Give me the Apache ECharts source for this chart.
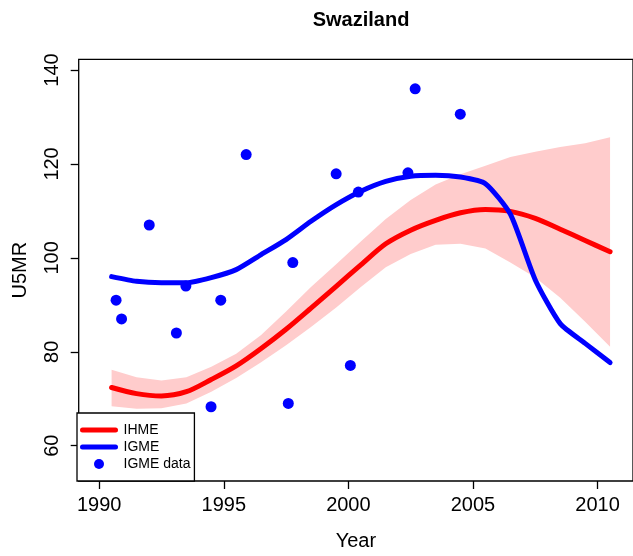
<!DOCTYPE html>
<html>
<head>
<meta charset="utf-8">
<script src="https://cdn.jsdelivr.net/npm/echarts@6/dist/echarts.min.js"></script>
<style>html,body{margin:0;padding:0;background:#fff;}#c{width:633px;height:556px;}</style>
</head>
<body>
<div id="c"></div>
<script>
// ---- data ----
const years = [1990.5,1991.5,1992.5,1993.5,1994.5,1995.5,1996.5,1997.5,1998.5,1999.5,2000.5,2001.5,2002.5,2003.5,2004.5,2005.5,2006.5,2007.5,2008.5,2009.5,2010.5];
const ihme = [72.4,71.1,70.6,71.5,74.1,77.0,80.7,84.8,89.3,93.9,98.5,103.0,105.9,108.0,109.6,110.3,109.9,108.4,106.1,103.7,101.3];
const ihmeLower = [68.4,67.9,68.0,69.0,71.5,74.4,77.8,81.4,85.3,89.4,93.8,98.0,100.8,102.8,103.0,102.0,99.0,95.8,91.5,86.4,81.1];
const ihmeUpper = [76.2,74.6,73.9,74.6,76.8,79.6,83.6,88.6,93.8,98.6,103.5,108.3,112.3,115.6,117.8,119.6,121.5,122.6,123.6,124.4,125.7];
const igme = [96.0,95.0,94.7,94.7,95.8,97.5,100.7,103.9,107.8,111.3,114.2,116.3,117.4,117.6,117.2,115.8,109.3,95.3,86.0,81.8,77.7];
const dataYears = [1990.68,1990.9,1992.01,1993.1,1993.48,1994.49,1994.88,1995.9,1997.59,1997.77,1999.51,2000.08,2000.4,2002.39,2002.68,2004.49];
const dataValues = [91.0,87.0,107.0,84.0,94.0,68.3,91.0,122.0,69.0,99.0,117.9,77.1,114.0,118.1,136.0,130.6];
const xTicks = [1990,1995,2000,2005,2010];
const yTicks = [60,80,100,120,140];

// ---- chart ----
const FONT = '"Liberation Sans", Arial, sans-serif';
const chart = echarts.init(document.getElementById('c'), null, {renderer:'canvas'});
const pair = (xs, ys) => xs.map((x,i)=>[x, ys[i]]);

chart.setOption({
  animation: false,
  backgroundColor: '#fff',
  title: {
    text: 'Swaziland', left: 356, top: 5, textAlign: 'center',
    textStyle: {fontFamily: FONT, fontWeight: 'bold', fontSize: 20, color: '#000'}
  },
  grid: {left: 78.7, right: -4, top: 59.3, bottom: 75, show: true, borderColor: '#000', borderWidth: 1.3, backgroundColor: 'transparent'},
  xAxis: {
    type: 'value', min: 1989.18, max: 2011.42,
    name: 'Year', nameLocation: 'middle', nameGap: 50,
    nameTextStyle: {fontFamily: FONT, fontSize: 20, color: '#000'},
    axisLine: {show: false},
    axisTick: {show: true, length: 8, lineStyle: {color: '#000', width: 1.3}, customValues: xTicks},
    axisLabel: {fontFamily: FONT, fontSize: 20, color: '#000', margin: 14, customValues: xTicks, formatter: v => String(v)},
    splitLine: {show: false}
  },
  yAxis: {
    type: 'value', min: 52.49, max: 142.28,
    name: 'U5MR', nameLocation: 'middle', nameGap: 48, nameRotate: 90,
    nameTextStyle: {fontFamily: FONT, fontSize: 20, color: '#000'},
    axisLine: {show: false},
    axisTick: {show: true, length: 8, lineStyle: {color: '#000', width: 1.3}, customValues: yTicks},
    axisLabel: {fontFamily: FONT, fontSize: 20, color: '#000', margin: 16, rotate: 90, customValues: yTicks, formatter: v => String(v)},
    splitLine: {show: false}
  },
  legend: {
    orient: 'vertical', left: 77, top: 413,
    data: [
      {name: 'IHME', itemStyle: {opacity: 0}, lineStyle: {width: 5, color: '#FF0000', cap: 'round'}},
      {name: 'IGME', itemStyle: {opacity: 0}, lineStyle: {width: 5, color: '#0000FF', cap: 'round'}},
      {name: 'IGME data'}
    ],
    backgroundColor: '#fff', borderColor: '#000', borderWidth: 1.3,
    padding: [10, 4, 10, 3],
    itemWidth: 33, itemHeight: 10, itemGap: 3,
    textStyle: {fontFamily: FONT, fontSize: 14, color: '#000', padding: [0,0,0,3]}
  },
  series: [
    {name: 'band', type: 'custom', data: [[years[0], ihmeUpper[0]]], silent: true, z: 1,
     renderItem: function (params, api) {
       const pts = [];
       for (let i = 0; i < years.length; i++) pts.push(api.coord([years[i], ihmeUpper[i]]));
       for (let i = years.length - 1; i >= 0; i--) pts.push(api.coord([years[i], ihmeLower[i]]));
       return {type: 'polygon', shape: {points: pts}, style: {fill: '#FFCCCC', stroke: null}};
     }},
    {name: 'IHME', type: 'line', data: pair(years, ihme), symbol: 'none', color: '#FF0000', smooth: 0.3,
     lineStyle: {color: '#FF0000', width: 5, cap: 'round', join: 'round'}, z: 3},
    {name: 'IGME', type: 'line', data: pair(years, igme), symbol: 'none', color: '#0000FF', smooth: 0.2,
     lineStyle: {color: '#0000FF', width: 5, cap: 'round', join: 'round'}, z: 4},
    {name: 'IGME data', type: 'scatter', data: pair(dataYears, dataValues), symbol: 'circle', symbolSize: 11,
     itemStyle: {color: '#0000FF', opacity: 1}, z: 5}
  ]
});
</script>
</body>
</html>
